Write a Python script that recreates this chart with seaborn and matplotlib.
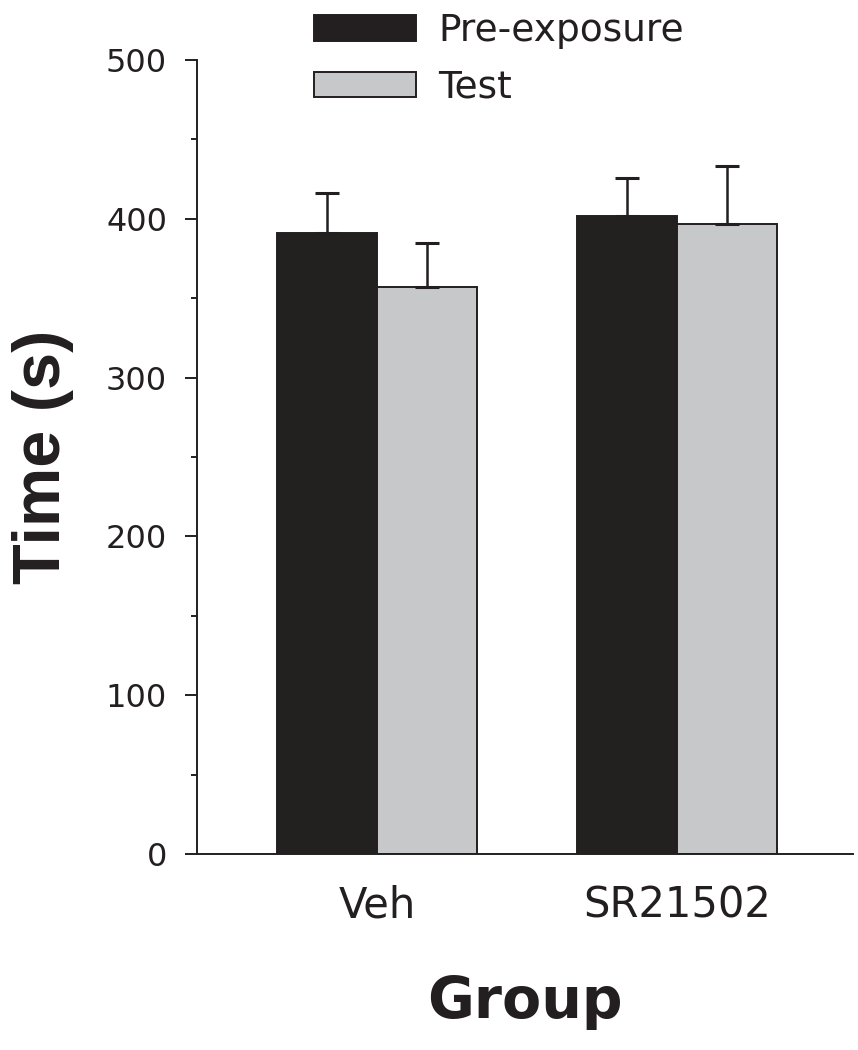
import numpy as np
import pandas as pd
import seaborn as sns
import matplotlib.pyplot as plt
from matplotlib.patches import Patch
from matplotlib.ticker import MultipleLocator

# values (mean and upper error, seconds)
groups = ['Veh', 'SR21502']
phases = ['Pre-exposure', 'Test']
pre_mean = [391, 402]
pre_err = [25, 24]
test_mean = [357, 397]
test_err = [28, 36]

dark = '#231f20'
grey = '#c7c8ca'

df = pd.DataFrame({
    'Group': groups * 2,
    'Phase': [phases[0]] * 2 + [phases[1]] * 2,
    'Time': pre_mean + test_mean,
})
errs = {phases[0]: pre_err, phases[1]: test_err}

sns.set_theme(style='ticks')
plt.rcParams['font.family'] = ['DejaVu Sans']
plt.rcParams['text.color'] = dark
plt.rcParams['axes.labelcolor'] = dark
plt.rcParams['xtick.color'] = dark
plt.rcParams['ytick.color'] = dark

fig = plt.figure(figsize=(8.58, 10.5), dpi=100)
ax = fig.add_axes([197 / 858, 1 - 854 / 1050, 656 / 858, 794 / 1050])

sns.barplot(data=df, x='Group', y='Time', hue='Phase', hue_order=phases,
            palette=[dark, grey], width=0.667, edgecolor=dark, linewidth=1.4,
            errorbar=None, legend=False, ax=ax)

for cont, ph in zip(ax.containers, phases):
    xs = [b.get_x() + b.get_width() / 2 for b in cont]
    ys = [b.get_height() for b in cont]
    ax.errorbar(xs, ys, yerr=[np.zeros(len(ys)), errs[ph]], fmt='none',
                ecolor=dark, elinewidth=1.8, capsize=8.6, capthick=2.2, zorder=3)

ax.set_ylim(0, 500)
ax.set_xlim(-0.6, 1.587)
ax.set_yticks(range(0, 501, 100))
ax.yaxis.set_minor_locator(MultipleLocator(50))
ax.tick_params(axis='y', which='major', length=8.6, width=1.4, pad=13, labelsize=23)
ax.tick_params(axis='y', which='minor', length=4.3, width=1.4)
ax.tick_params(axis='x', length=0, pad=22, labelsize=30)
sns.despine(ax=ax)
for s in ['left', 'bottom']:
    ax.spines[s].set_linewidth(1.4)
    ax.spines[s].set_color(dark)

ax.set_ylabel('Time (s)', fontsize=48, fontweight='bold', family=['Liberation Sans'])
ax.yaxis.set_label_coords(-0.188, 0.5)
ax.set_xlabel('Group', fontsize=41, fontweight='bold')
ax.xaxis.set_label_coords(0.5, -0.153)

handles = [Patch(facecolor=dark, edgecolor=dark, linewidth=1.4),
           Patch(facecolor=grey, edgecolor=dark, linewidth=1.4)]
fig.legend(handles, phases, loc='upper left', bbox_to_anchor=(314 / 858, 1 - 13 / 1050),
           frameon=False, fontsize=27, borderpad=0, borderaxespad=0,
           handlelength=2.72, handleheight=0.67, handletextpad=0.6, labelspacing=0.55)

fig.savefig('out.png', dpi=100)
